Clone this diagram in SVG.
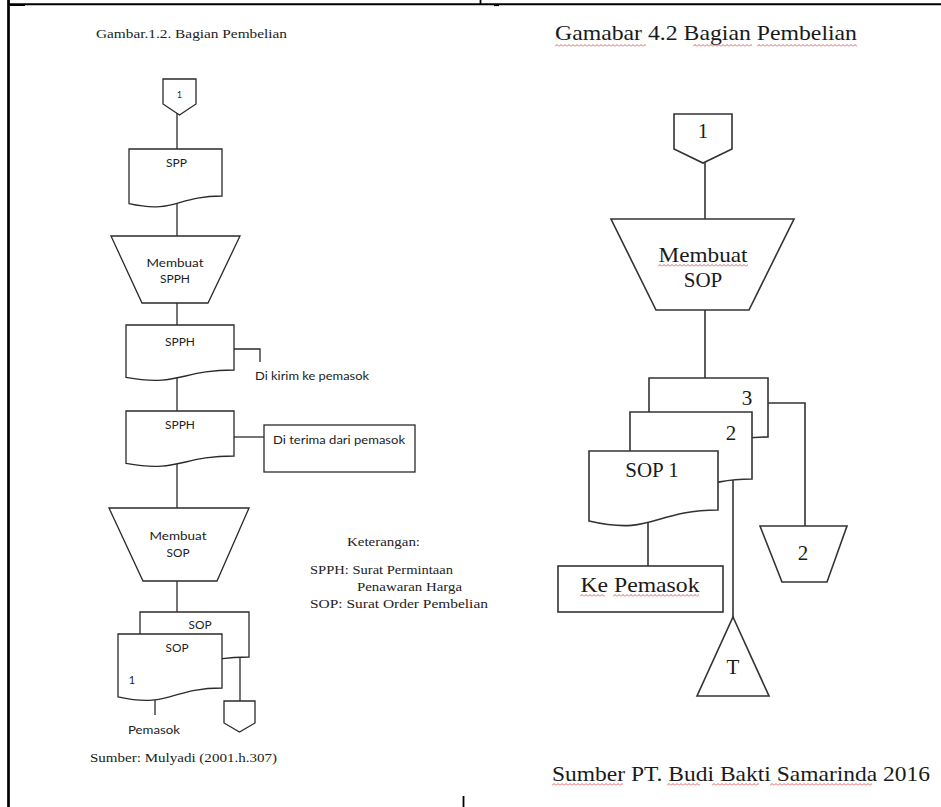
<svg xmlns="http://www.w3.org/2000/svg" width="941" height="807" viewBox="0 0 941 807">
  <defs>
    <style>
      .frame { stroke: #000; fill: none; }
      .ln { stroke: #2a2a2a; stroke-width: 1.3; fill: none; }
      .shp { stroke: #2a2a2a; stroke-width: 1.3; fill: #fff; }
      .shpR { stroke: #333; stroke-width: 1.6; fill: #fff; }
      .lnR { stroke: #333; stroke-width: 1.6; fill: none; }
      .sans { font-family: Lato, "Open Sans", "Liberation Sans", sans-serif; font-size: 11px; fill: #222; }
      .serifS { font-family: "Liberation Serif", "Times New Roman", serif; font-size: 12.5px; fill: #222; }
      .serifL { font-family: "Liberation Serif", "Times New Roman", serif; font-size: 21px; fill: #1a1a1a; }
      .mid { text-anchor: middle; }
    </style>
    <!-- spell-check style red wavy underline -->
    <pattern id="wavy" width="4" height="3" patternUnits="userSpaceOnUse">
      <path d="M0,2.5 L2,0.5 L4,2.5" stroke="#d25454" stroke-width="0.9" fill="none"/>
    </pattern>
  </defs>

  <rect width="941" height="807" fill="#fff"/>

  <!-- page table frame -->
  <g id="frame">
    <line class="frame" x1="8.5" y1="0" x2="8.5" y2="807" stroke-width="2.7"/>
    <line class="frame" x1="8" y1="4.3" x2="941" y2="4.3" stroke-width="2"/>
    <line class="frame" x1="10" y1="5.5" x2="25" y2="5.5" stroke-width="1"/>
    <line class="frame" x1="480.5" y1="0" x2="480.5" y2="5" stroke-width="1.8"/>
    <line class="frame" x1="494" y1="5.5" x2="499" y2="5.5" stroke-width="1.2"/>
    <line class="frame" x1="463.5" y1="796" x2="463.5" y2="807" stroke-width="1.8"/>
  </g>

  <!-- ===== Left chart: Bagian Pembelian (Mulyadi) ===== -->
  <text class="serifS" x="96" y="38" textLength="191" lengthAdjust="spacingAndGlyphs">Gambar.1.2. Bagian Pembelian</text>

  <g id="connectors-left">
    <line class="ln" x1="177" y1="112" x2="177" y2="152"/>
    <line class="ln" x1="177" y1="200" x2="177" y2="238"/>
    <line class="ln" x1="177" y1="300" x2="177" y2="328"/>
    <line class="ln" x1="177" y1="375" x2="177" y2="414"/>
    <line class="ln" x1="177" y1="460" x2="177" y2="510"/>
    <line class="ln" x1="177" y1="578" x2="177" y2="615"/>
    <polyline class="ln" points="234,349 260,349 260,362"/>
    <line class="ln" x1="234" y1="437" x2="264" y2="437"/>
    <line class="ln" x1="240" y1="655" x2="240" y2="703"/>
    <line class="ln" x1="155" y1="695" x2="155" y2="715"/>
  </g>

  <g id="offpage-1-left">
    <path class="shp" d="M163,79 H196 V104 L179.5,115 L163,104 Z"/>
    <text class="sans mid" x="179.5" y="98" style="font-size:8.5px">1</text>
  </g>

  <g id="doc-spp">
    <path class="shp" d="M129,149 H222 V196 C175.5,196 175.5,213.9 129,203.7 Z"/>
    <text class="sans mid" x="176.5" y="167" textLength="21" lengthAdjust="spacingAndGlyphs">SPP</text>
  </g>

  <g id="op-membuat-spph">
    <path class="shp" d="M111,236 H240 L208,303 H142 Z"/>
    <text class="sans mid" x="175" y="267" textLength="57" lengthAdjust="spacingAndGlyphs">Membuat</text>
    <text class="sans mid" x="175" y="283" textLength="30" lengthAdjust="spacingAndGlyphs">SPPH</text>
  </g>

  <g id="doc-spph-kirim">
    <path class="shp" d="M126,325 H234 V370 C180,370 180,387.1 126,377.4 Z"/>
    <text class="sans mid" x="180" y="346" textLength="30" lengthAdjust="spacingAndGlyphs">SPPH</text>
  </g>
  <text class="sans" x="255" y="380" textLength="114" lengthAdjust="spacingAndGlyphs">Di kirim ke pemasok</text>

  <g id="doc-spph-terima">
    <path class="shp" d="M126,411 H234 V456 C180,456 180,473.1 126,463.4 Z"/>
    <text class="sans mid" x="180" y="429" textLength="30" lengthAdjust="spacingAndGlyphs">SPPH</text>
  </g>

  <g id="box-diterima">
    <rect class="shp" x="264" y="425" width="151" height="47"/>
    <text class="sans" x="273" y="444" textLength="132" lengthAdjust="spacingAndGlyphs">Di terima dari pemasok</text>
  </g>

  <g id="op-membuat-sop-left">
    <path class="shp" d="M109,508 H249 L217,581 H143 Z"/>
    <text class="sans mid" x="178" y="540" textLength="57" lengthAdjust="spacingAndGlyphs">Membuat</text>
    <text class="sans mid" x="178" y="557" textLength="23" lengthAdjust="spacingAndGlyphs">SOP</text>
  </g>

  <g id="doc-sop-left">
    <path class="shp" d="M140,612 H249 V657 C194.5,657 194.5,674.1 140,664.4 Z"/>
    <text class="sans mid" x="200" y="629" textLength="23" lengthAdjust="spacingAndGlyphs">SOP</text>
    <path class="shp" d="M118,634 H222 V688 C170,688 170,708.5 118,696.9 Z"/>
    <text class="sans mid" x="177" y="652" textLength="23" lengthAdjust="spacingAndGlyphs">SOP</text>
    <text class="sans mid" x="132" y="684">1</text>
  </g>

  <g id="offpage-left-bottom">
    <path class="shp" d="M224,701 H255 V723 L239.5,732 L224,723 Z"/>
  </g>

  <text class="sans" x="128" y="734" textLength="52" lengthAdjust="spacingAndGlyphs">Pemasok</text>

  <g id="legend-left">
    <text class="serifS" x="347" y="546" textLength="73" lengthAdjust="spacingAndGlyphs">Keterangan:</text>
    <text class="serifS" x="310" y="574" textLength="143" lengthAdjust="spacingAndGlyphs">SPPH: Surat Permintaan</text>
    <text class="serifS" x="357" y="591" textLength="105" lengthAdjust="spacingAndGlyphs">Penawaran Harga</text>
    <text class="serifS" x="310" y="608" textLength="178" lengthAdjust="spacingAndGlyphs">SOP: Surat Order Pembelian</text>
  </g>

  <text class="serifS" x="90" y="762" textLength="187" lengthAdjust="spacingAndGlyphs">Sumber: Mulyadi (2001.h.307)</text>

  <!-- ===== Right chart: Bagian Pembelian (PT. Budi Bakti) ===== -->
  <text class="serifL" x="555" y="40" textLength="302" lengthAdjust="spacingAndGlyphs">Gamabar 4.2 Bagian Pembelian</text>
  <rect x="0" y="0" width="91" height="3" fill="url(#wavy)" transform="translate(555,44)"/>
  <rect x="0" y="0" width="59" height="3" fill="url(#wavy)" transform="translate(693,44)"/>
  <rect x="0" y="0" width="100" height="3" fill="url(#wavy)" transform="translate(757,44)"/>

  <g id="connectors-right">
    <line class="lnR" x1="705" y1="160" x2="705" y2="221"/>
    <line class="lnR" x1="705" y1="308" x2="705" y2="381"/>
    <polyline class="lnR" points="766,403 805,403 805,528"/>
    <line class="lnR" x1="733" y1="476" x2="733" y2="619"/>
    <line class="lnR" x1="648" y1="518" x2="648" y2="568"/>
  </g>

  <g id="offpage-1-right">
    <path class="shpR" d="M674,114 H732 V149 L703,163 L674,149 Z"/>
    <text class="serifL mid" x="703" y="138">1</text>
  </g>

  <g id="op-membuat-sop-right">
    <path class="shpR" d="M611,219 H794 L749,310 H656 Z"/>
    <text class="serifL mid" x="703" y="262" textLength="89" lengthAdjust="spacingAndGlyphs">Membuat</text>
    <rect x="0" y="0" width="90" height="3" fill="url(#wavy)" transform="translate(658,264)"/>
    <text class="serifL mid" x="703" y="287">SOP</text>
  </g>

  <g id="doc-sop-3">
    <path class="shpR" d="M649,378 H768 V437 C708.5,437 708.5,459.5 649,446.7 Z"/>
    <text class="serifL mid" x="747" y="405">3</text>
  </g>

  <g id="doc-sop-2">
    <path class="shpR" d="M630,412 H752 V479 C691,479 691,504.5 630,490 Z"/>
    <text class="serifL mid" x="731" y="440">2</text>
  </g>

  <g id="doc-sop-1">
    <path class="shpR" d="M589,451 H718 V510 C653.5,510 653.5,536 589,521 Z"/>
    <text class="serifL mid" x="652" y="477">SOP 1</text>
  </g>

  <g id="box-ke-pemasok">
    <rect class="shpR" x="558" y="566" width="165" height="46"/>
    <text class="serifL mid" x="640" y="592" textLength="119" lengthAdjust="spacingAndGlyphs">Ke Pemasok</text>
    <rect x="0" y="0" width="25" height="3" fill="url(#wavy)" transform="translate(580,594)"/>
    <rect x="0" y="0" width="86" height="3" fill="url(#wavy)" transform="translate(613,594)"/>
  </g>

  <g id="archive-t">
    <path class="shpR" d="M733,617 L769,696 H697 Z"/>
    <text class="serifL mid" x="733" y="674">T</text>
  </g>

  <g id="offpage-2">
    <path class="shpR" d="M760,526 H847 L827,582 H782 Z"/>
    <text class="serifL mid" x="803" y="560">2</text>
  </g>

  <text class="serifL" x="552" y="781" textLength="378" lengthAdjust="spacingAndGlyphs">Sumber PT. Budi Bakti Samarinda 2016</text>
  <rect x="0" y="0" width="71" height="3" fill="url(#wavy)" transform="translate(552,783)"/>
  <rect x="0" y="0" width="33" height="3" fill="url(#wavy)" transform="translate(667,783)"/>
  <rect x="0" y="0" width="47" height="3" fill="url(#wavy)" transform="translate(712,783)"/>
  <rect x="0" y="0" width="102" height="3" fill="url(#wavy)" transform="translate(770,783)"/>
</svg>
